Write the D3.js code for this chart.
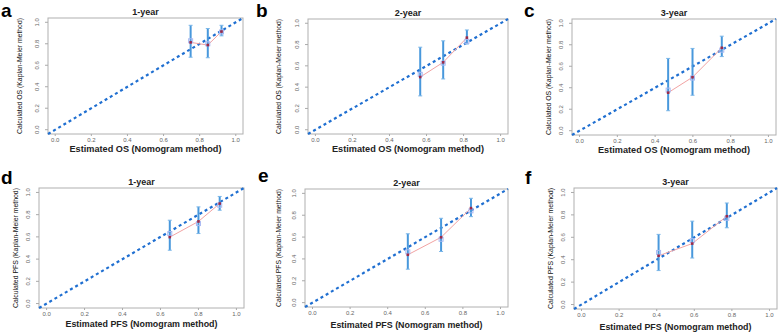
<!DOCTYPE html>
<html>
<head>
<meta charset="utf-8">
<script src="https://cdn.jsdelivr.net/npm/d3@7"></script>
<style>
  body { margin: 0; background: #fff; }
  svg { display: block; font-family: "Liberation Sans", Arial, sans-serif; }
</style>
</head>
<body>
<div id="chart"></div>
<script>

var titles = ["1-year", "2-year", "3-year"];
var letters = ["a", "b", "c", "d", "e", "f"];
var ticks = [0.0, 0.2, 0.4, 0.6, 0.8, 1.0];

var osPred = [[0.750, 0.845, 0.921], [0.566, 0.690, 0.818], [0.469, 0.598, 0.753]];
var osObs  = [[0.813, 0.788, 0.914], [0.495, 0.633, 0.865], [0.354, 0.498, 0.772]];
var osLow  = [[0.675, 0.670, 0.874], [0.318, 0.477, 0.805], [0.186, 0.330, 0.690]];
var osHigh = [[0.972, 0.942, 0.972], [0.775, 0.835, 0.937], [0.673, 0.766, 0.880]];
var osCorr = [[0.828, 0.800, 0.910], [0.520, 0.625, 0.830], [0.378, 0.490, 0.750]];

var pfsPred = [[0.649, 0.800, 0.912], [0.507, 0.684, 0.843], [0.410, 0.589, 0.773]];
var pfsObs  = [[0.598, 0.739, 0.900], [0.438, 0.598, 0.865], [0.435, 0.544, 0.788]];
var pfsLow  = [[0.480, 0.630, 0.840], [0.306, 0.468, 0.787], [0.303, 0.415, 0.685]];
var pfsHigh = [[0.750, 0.870, 0.964], [0.630, 0.772, 0.955], [0.626, 0.744, 0.906]];
var pfsCorr = [[0.630, 0.720, 0.885], [0.465, 0.580, 0.840], [0.465, 0.570, 0.770]];

// panel frames on the page (left, right, top, bottom)
var frames = [
	[48, 243, 18, 134], [308, 508, 19, 134], [572, 776, 19, 135],
	[39, 244, 188, 308], [305, 508, 189, 307], [574, 777, 188, 309]
];
var letterPos = [[1, 17], [256, 17], [524, 17], [1, 184], [258, 182], [525, 184]];
var yTitleX = [19, 278, 548, 15, 278, 550];
var xTitleY = [152, 152, 153, 327, 328, 330];

var svg = d3.select("#chart")
	.append("svg")
	.attr("width", 778)
	.attr("height", 332);

function drawPanel(i, kind, pred, obs, low, high, corr) {

	var f = frames[i];
	var x = d3.scaleLinear().domain([-0.04, 1.04]).range([f[0], f[1]]);
	var y = d3.scaleLinear().domain([-0.04, 1.04]).range([f[3], f[2]]);
	var g = svg.append("g");

	g.append("rect")
		.attr("x", f[0]).attr("y", f[2])
		.attr("width", f[1] - f[0]).attr("height", f[3] - f[2])
		.attr("fill", "none").attr("stroke", "#b0b0b0").attr("stroke-width", 1);

	// x ticks
	g.selectAll("text.xt").data(ticks).enter()
		.append("text")
		.attr("x", d => x(d)).attr("y", f[3] + 7.5)
		.attr("text-anchor", "middle")
		.attr("font-size", 6).attr("fill", "#666")
		.text(d => d.toFixed(1));

	g.selectAll("line.xt").data(ticks).enter()
		.append("line")
		.attr("x1", d => x(d)).attr("x2", d => x(d))
		.attr("y1", f[3]).attr("y2", f[3] + 2)
		.attr("stroke", "#aaa");

	// y ticks (rotated labels, R style)
	g.selectAll("line.yt").data(ticks).enter()
		.append("line")
		.attr("x1", f[0] - 3).attr("x2", f[0])
		.attr("y1", d => y(d)).attr("y2", d => y(d))
		.attr("stroke", "#aaa");

	g.selectAll("text.yt").data(ticks).enter()
		.append("text")
		.attr("transform", d => "translate(" + (f[0] - 9) + "," + y(d) + ") rotate(-90)")
		.attr("text-anchor", "middle")
		.attr("font-size", 6).attr("fill", "#666")
		.text(d => d.toFixed(1));

	// titles
	g.append("text")
		.attr("x", (f[0] + f[1]) / 2).attr("y", f[2] - 3)
		.attr("text-anchor", "middle")
		.attr("font-size", 9).attr("font-weight", "bold").attr("fill", "#222")
		.text(titles[i % 3]);

	g.append("text")
		.attr("x", (f[0] + f[1]) / 2).attr("y", xTitleY[i])
		.attr("text-anchor", "middle")
		.attr("font-size", 9.5).attr("font-weight", "bold").attr("fill", "#222")
		.attr("textLength", 152).attr("lengthAdjust", "spacingAndGlyphs")
		.text("Estimated " + kind + " (Nomogram method)");

	g.append("text")
		.attr("transform", "translate(" + yTitleX[i] + "," + ((f[2] + f[3]) / 2) + ") rotate(-90)")
		.attr("text-anchor", "middle").attr("dy", "0.35em")
		.attr("font-size", 7.5).attr("fill", "#111")
		.attr("textLength", f[3] - f[2]).attr("lengthAdjust", "spacingAndGlyphs")
		.text("Calculated " + kind + " (Kaplan-Meier method)");

	g.append("text")
		.attr("x", letterPos[i][0]).attr("y", letterPos[i][1])
		.attr("font-size", 19).attr("font-weight", "bold").attr("fill", "#000")
		.text(letters[i]);

	// ideal line
	g.append("line")
		.attr("x1", x(-0.04)).attr("y1", y(-0.04))
		.attr("x2", x(1.04)).attr("y2", y(1.04))
		.attr("stroke", "#1f6fd1").attr("stroke-width", 2.2)
		.attr("stroke-dasharray", "3,3");

	var pts = pred.map((p, j) => ({ p: p, o: obs[j], lo: low[j], hi: high[j], c: corr[j] }));

	// error bars
	g.selectAll("line.err").data(pts).enter()
		.append("line")
		.attr("x1", d => x(d.p)).attr("x2", d => x(d.p))
		.attr("y1", d => y(d.lo)).attr("y2", d => y(d.hi))
		.attr("stroke", "#4898dc").attr("stroke-width", 2);

	["lo", "hi"].forEach(function(k) {
		g.selectAll("line.cap" + k).data(pts).enter()
			.append("line")
			.attr("x1", d => x(d.p) - 2).attr("x2", d => x(d.p) + 2)
			.attr("y1", d => y(d[k])).attr("y2", d => y(d[k]))
			.attr("stroke", "#7ab6e8").attr("stroke-width", 1);
	});

	// observed line
	g.append("path")
		.datum(pts)
		.attr("d", d3.line().x(d => x(d.p)).y(d => y(d.o)))
		.attr("fill", "none").attr("stroke", "#f2a3a3").attr("stroke-width", 1);

	// bias-corrected markers
	g.selectAll("rect.corr").data(pts).enter()
		.append("rect")
		.attr("x", d => x(d.p) - 2).attr("y", d => y(d.c) - 2)
		.attr("width", 4).attr("height", 4)
		.attr("fill", "none").attr("stroke", "#a9b8f2").attr("stroke-width", 1);

	g.selectAll("rect.obs").data(pts).enter()
		.append("rect")
		.attr("x", d => x(d.p) - 1.3).attr("y", d => y(d.o) - 1.3)
		.attr("width", 2.6).attr("height", 2.6)
		.attr("fill", "#9a2a4a");
}

for (var k = 0; k < 3; k++) {
	drawPanel(k, "OS", osPred[k], osObs[k], osLow[k], osHigh[k], osCorr[k]);
	drawPanel(k + 3, "PFS", pfsPred[k], pfsObs[k], pfsLow[k], pfsHigh[k], pfsCorr[k]);
}

</script>
</body>
</html>
